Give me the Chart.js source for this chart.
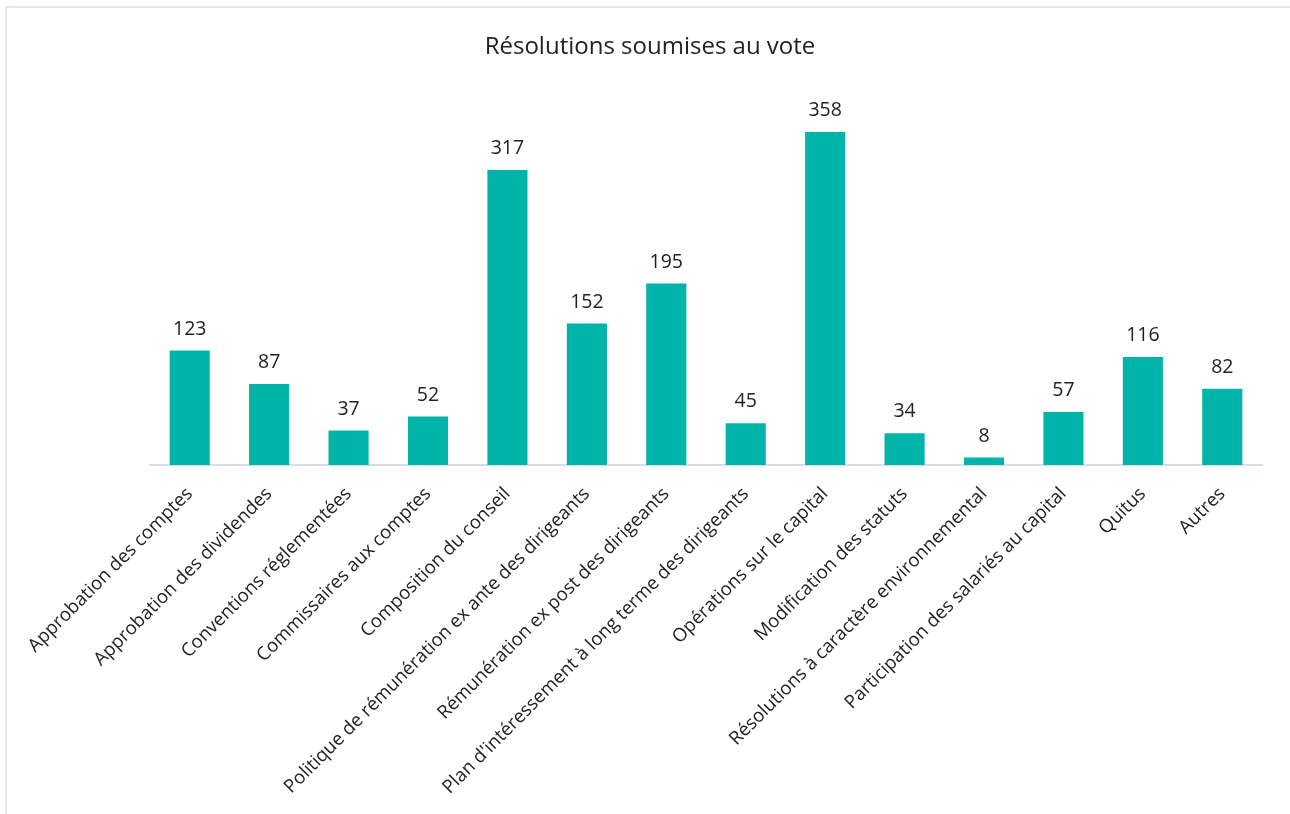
<!DOCTYPE html>
<html>
<head>
<meta charset="utf-8">
<script src="https://cdn.jsdelivr.net/npm/chart.js@4/dist/chart.umd.min.js"></script>
<style>
  html, body { margin: 0; padding: 0; background: #fff; overflow: hidden; }
  #frame { position: absolute; left: 5px; top: 6px; width: 1300px; height: 900px;
           border-top: 2px solid #e3e8ee; border-left: 2px solid #e3e8ee; box-sizing: border-box; }
  #wrap { position: absolute; left: 0; top: 0; width: 1290px; height: 814px; }
</style>
</head>
<body>
<div id="frame"></div>
<div id="wrap"><canvas id="c" width="1290" height="814"></canvas></div>
<script>
const categories = [
  "Approbation des comptes",
  "Approbation des dividendes",
  "Conventions réglementées",
  "Commissaires aux comptes",
  "Composition du conseil",
  "Politique de rémunération ex ante des dirigeants",
  "Rémunération ex post des dirigeants",
  "Plan d'intéressement à long terme des dirigeants",
  "Opérations sur le capital",
  "Modification des statuts",
  "Résolutions à caractère environnemental",
  "Participation des salariés au capital",
  "Quitus",
  "Autres"
];
const values = [123, 87, 37, 52, 317, 152, 195, 45, 358, 34, 8, 57, 116, 82];
const titleText = "Résolutions soumises au vote";

const FONT = "'Open Sans', 'Noto Sans', sans-serif";
const TEXT = "#222222";

const valueLabels = {
  id: 'valueLabels',
  afterDatasetsDraw(chart) {
    const ctx = chart.ctx;
    const meta = chart.getDatasetMeta(0);
    ctx.save();
    ctx.font = "19.5px " + FONT;
    ctx.fillStyle = TEXT;
    ctx.textAlign = 'center';
    ctx.textBaseline = 'alphabetic';
    meta.data.forEach((bar, i) => {
      ctx.fillText(String(chart.data.datasets[0].data[i]), bar.x, bar.y - 16);
    });
    ctx.restore();
  }
};

new Chart(document.getElementById('c'), {
  type: 'bar',
  data: {
    labels: categories,
    datasets: [{
      data: values,
      backgroundColor: '#00b4a9',
      borderWidth: 0,
      categoryPercentage: 1.0,
      barPercentage: 0.505
    }]
  },
  options: {
    responsive: false,
    animation: false,
    devicePixelRatio: 1,
    layout: { padding: { left: 10, right: 0, top: 0, bottom: 0 } },
    plugins: {
      legend: { display: false },
      tooltip: { enabled: false },
      title: {
        display: true,
        text: titleText,
        color: TEXT,
        font: { family: FONT, size: 24, weight: 'normal', lineHeight: 1.2 },
        padding: { top: 33, bottom: 31 }
      }
    },
    scales: {
      x: {
        grid: { display: false, drawTicks: false },
        border: { display: true, color: '#d9dee5', width: 2 },
        ticks: {
          color: TEXT,
          font: { family: FONT, size: 18.6 },
          minRotation: 45,
          maxRotation: 45,
          autoSkip: false,
          padding: 18
        },
        afterFit(scale) {
          scale.paddingLeft = 150;
          scale.paddingRight = 28;
          scale.height = 814 - 465;
        }
      },
      y: {
        display: false,
        min: 0,
        max: 400
      }
    }
  },
  plugins: [valueLabels]
});
</script>
</body>
</html>
